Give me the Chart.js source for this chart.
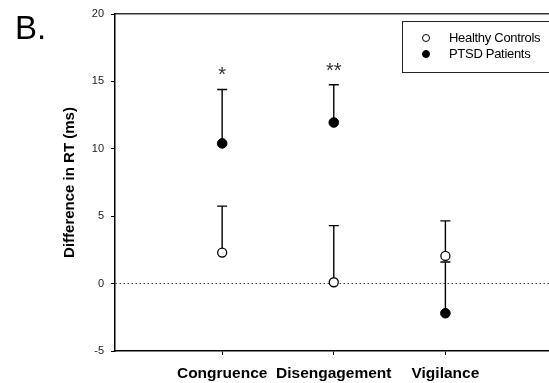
<!DOCTYPE html>
<html>
<head>
<meta charset="utf-8">
<script src="https://cdn.jsdelivr.net/npm/chart.js@4.4.0/dist/chart.umd.min.js"></script>
<style>
  body { margin: 0; background: #fff; font-family: "Liberation Sans", Arial, sans-serif; overflow: hidden; }
  #wrap { position: relative; width: 549px; height: 383px; overflow: hidden; }
  #panel { position: absolute; left: 15px; top: 9px; font-size: 33px; color: #000; }
  #legend { position: absolute; left: 402px; top: 21px; width: 160px; height: 52px;
            border: 1.5px solid #222; box-sizing: border-box; font-size: 13px; letter-spacing: -0.3px; }
  #legend .row { position: absolute; left: 46px; height: 16px; line-height: 16px; color: #000; white-space: nowrap; }
  #legend .dot { position: absolute; left: -27px; top: 4px; width: 8px; height: 8px; border-radius: 50%;
                 box-sizing: border-box; border: 1.3px solid #000; }
</style>
</head>
<body>
<div id="wrap">
  <!-- canvas is a bit wider than the window so the plot runs off the right edge like the cropped original -->
  <canvas id="chart" width="555" height="383"></canvas>
  <div id="panel">B.</div>
  <div id="legend">
    <div class="row" style="top: 8px;"><span class="dot" style="background:#fff"></span>Healthy Controls</div>
    <div class="row" style="top: 24px;"><span class="dot" style="background:#000"></span>PTSD Patients</div>
  </div>
</div>
<script>
const categories = ['Congruence', 'Disengagement', 'Vigilance'];
const controlsMean = [2.3, 0.1, 2.05];
const controlsErr = [3.45, 4.2, 2.6];
const ptsdMean = [10.4, 11.95, -2.2];
const ptsdErr = [4.0, 2.8, 3.8];
const sigLabels = ['*', '**', ''];
const yTicks = [-5, 0, 5, 10, 15, 20];

const FONT = '"Liberation Sans", Arial, sans-serif';

// one-sided (upper) error bars, drawn under the markers
const errorBars = {
  id: 'errorBars',
  beforeDatasetsDraw(chart) {
    const { ctx, scales: { x, y } } = chart;
    ctx.save();
    ctx.strokeStyle = '#000';
    ctx.lineWidth = 1.4;
    chart.data.datasets.forEach(ds => {
      ds.data.forEach((p, i) => {
        const px = x.getPixelForValue(p.x);
        const y0 = y.getPixelForValue(p.y);
        const y1 = y.getPixelForValue(p.y + ds.errUp[i]);
        ctx.beginPath();
        ctx.moveTo(px, y0);
        ctx.lineTo(px, y1);
        ctx.moveTo(px - 5, y1);
        ctx.lineTo(px + 5, y1);
        ctx.stroke();
      });
    });
    // significance stars above PTSD bars
    const ptsd = chart.data.datasets[1];
    ctx.fillStyle = '#333';
    ctx.font = '20px ' + FONT;
    ctx.textAlign = 'center';
    ctx.textBaseline = 'alphabetic';
    ptsd.data.forEach((p, i) => {
      if (!sigLabels[i]) return;
      const px = x.getPixelForValue(p.x);
      const top = y.getPixelForValue(p.y + ptsd.errUp[i]);
      ctx.fillText(sigLabels[i], px, top - 8);
    });
    ctx.restore();
  }
};

new Chart(document.getElementById('chart').getContext('2d'), {
  type: 'scatter',
  data: {
    datasets: [{
      label: 'Healthy Controls',
      data: controlsMean.map((v, i) => ({ x: i + 1, y: v })),
      errUp: controlsErr,
      pointRadius: 4.5,
      pointBackgroundColor: '#fff',
      pointBorderColor: '#000',
      pointBorderWidth: 1.3
    }, {
      label: 'PTSD Patients',
      data: ptsdMean.map((v, i) => ({ x: i + 1, y: v })),
      errUp: ptsdErr,
      pointRadius: 4.8,
      pointBackgroundColor: '#000',
      pointBorderColor: '#000',
      pointBorderWidth: 1
    }]
  },
  options: {
    responsive: false,
    animation: false,
    layout: { padding: { left: 56, top: 14, right: 0, bottom: 0 } },
    plugins: { legend: { display: false }, tooltip: { enabled: false } },
    scales: {
      x: {
        type: 'linear',
        min: 0.04,
        max: 3.93,
        afterBuildTicks: axis => { axis.ticks = [1, 2, 3].map(v => ({ value: v })); },
        afterFit: axis => { axis.height = 32; },
        ticks: {
          callback: v => categories[v - 1],
          color: '#000',
          padding: 9,
          maxRotation: 0,
          autoSkip: false,
          font: { family: FONT, size: 15.5, weight: 'bold' }
        },
        grid: { drawOnChartArea: false, tickLength: 4, tickColor: '#000', tickWidth: 1 },
        border: { color: '#000', width: 1.5 }
      },
      x2: {
        type: 'linear',
        position: 'top',
        min: 0.04,
        max: 3.93,
        afterFit: axis => { axis.height = 0; },
        ticks: { display: false },
        grid: { display: false },
        border: { color: '#333', width: 1.5 }
      },
      y: {
        min: -5,
        max: 20,
        afterBuildTicks: axis => { axis.ticks = yTicks.map(v => ({ value: v })); },
        afterFit: axis => { axis.width = 59; },
        ticks: {
          color: '#222',
          padding: 7,
          font: { family: FONT, size: 11 }
        },
        grid: {
          color: c => (c.tick && c.tick.value === 0 ? '#444' : 'rgba(0,0,0,0)'),
          lineWidth: 1,
          tickLength: 4,
          tickColor: '#000',
          tickWidth: 1
        },
        border: { color: '#000', width: 1.5, dash: [1.5, 2.5] },
        title: {
          display: true,
          text: 'Difference in RT (ms)',
          color: '#000',
          padding: { top: 5, bottom: 0 },
          font: { family: FONT, size: 15, weight: 'bold' }
        }
      }
    }
  },
  plugins: [errorBars]
});
</script>
</body>
</html>
